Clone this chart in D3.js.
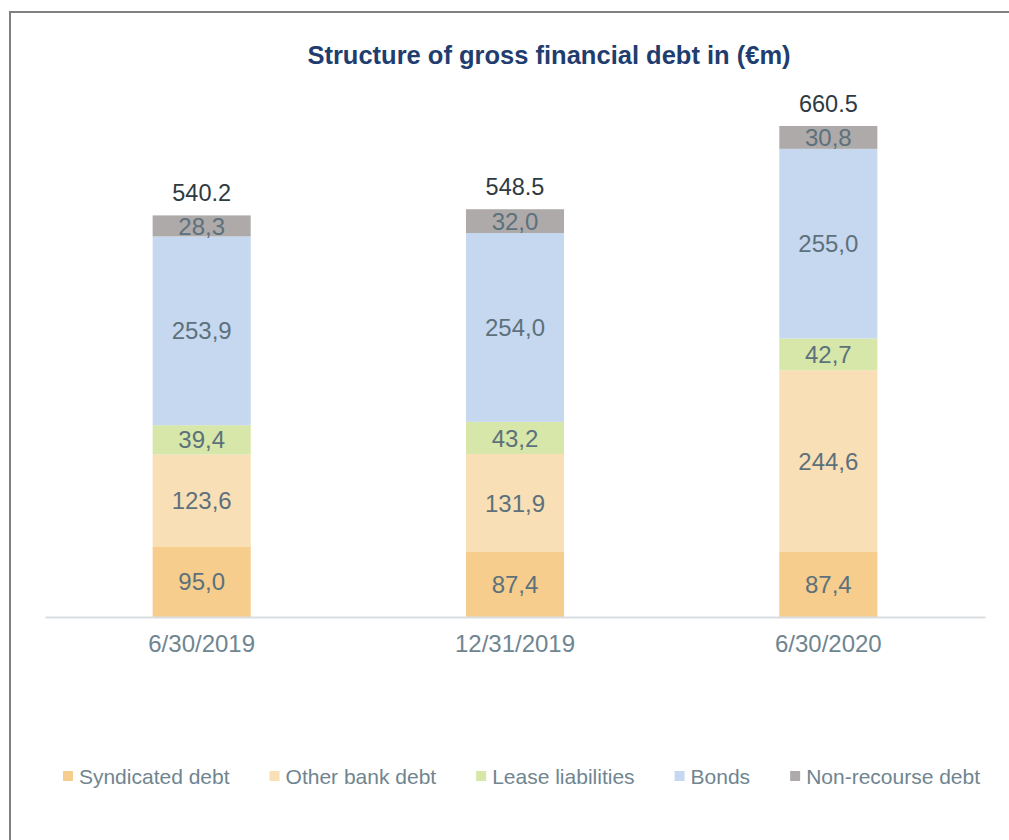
<!DOCTYPE html>
<html>
<head>
<meta charset="utf-8">
<script src="https://cdn.jsdelivr.net/npm/d3@7"></script>
<style>
  body { margin: 0; background: #fff; }
  svg { font-family: "Liberation Sans", Arial, sans-serif; }
</style>
</head>
<body>
<svg id="chart" width="1009" height="840"></svg>
<script>
// Data
const dates = ["6/30/2019", "12/31/2019", "6/30/2020"];
const seriesNames = ["Syndicated debt", "Other bank debt", "Lease liabilities", "Bonds", "Non-recourse debt"];
const syndicated = [95.0, 87.4, 87.4];
const otherBank = [123.6, 131.9, 244.6];
const lease = [39.4, 43.2, 42.7];
const bonds = [253.9, 254.0, 255.0];
const nonRecourse = [28.3, 32.0, 30.8];
const totals = ["540.2", "548.5", "660.5"];
const colors = ["#f6cd8c", "#f9dfb6", "#d6e7a9", "#c6d8ef", "#aeaaaa"];

const svg = d3.select("#chart");

// Frame round the chart
svg.append("rect")
  .attr("x", 10).attr("y", 12)
  .attr("width", 1020).attr("height", 840)
  .attr("fill", "none")
  .attr("stroke", "#808080")
  .attr("stroke-width", 2);

// Title
svg.append("text")
  .attr("x", 549).attr("y", 64)
  .attr("text-anchor", "middle")
  .attr("fill", "#1f3d6e")
  .attr("font-weight", "bold")
  .attr("font-size", 25.5)
  .text("Structure of gross financial debt in (€m)");

// Build rows for the stack
const rows = dates.map((d, i) => ({
  date: d,
  "Syndicated debt": syndicated[i],
  "Other bank debt": otherBank[i],
  "Lease liabilities": lease[i],
  "Bonds": bonds[i],
  "Non-recourse debt": nonRecourse[i],
  total: totals[i]
}));

const stack = d3.stack().keys(seriesNames)(rows);

const x = d3.scaleBand()
  .domain(dates)
  .range([45, 985])
  .paddingInner(0.687)
  .paddingOuter(0.3435);

const y = d3.scaleLinear().domain([0, 700]).range([617, 96.6]);

const color = d3.scaleOrdinal().domain(seriesNames).range(colors);

// Bars
const layers = svg.append("g").selectAll("g")
  .data(stack)
  .join("g")
  .attr("fill", (d) => color(d.key));

layers.selectAll("rect")
  .data((d) => d)
  .join("rect")
  .attr("x", (d) => x(d.data.date))
  .attr("y", (d) => y(d[1]))
  .attr("width", x.bandwidth())
  .attr("height", (d) => y(d[0]) - y(d[1]));

// Segment labels (comma decimals)
const fmt = (v) => d3.format(".1f")(v).replace(".", ",");
layers.selectAll("text")
  .data((d) => d)
  .join("text")
  .attr("x", (d) => x(d.data.date) + x.bandwidth() / 2)
  .attr("y", (d) => (y(d[0]) + y(d[1])) / 2)
  .attr("dy", "0.36em")
  .attr("text-anchor", "middle")
  .attr("fill", "#5d717c")
  .attr("font-size", 24)
  .text((d) => fmt(d[1] - d[0]));

// Totals above bars
svg.append("g").selectAll("text")
  .data(rows)
  .join("text")
  .attr("x", (d) => x(d.date) + x.bandwidth() / 2)
  .attr("y", (d) => y(+d.total) - 14)
  .attr("text-anchor", "middle")
  .attr("fill", "#2e3a3f")
  .attr("font-size", 23.5)
  .text((d) => d.total);

// Category axis
const xAxis = svg.append("g")
  .attr("transform", "translate(0,617)")
  .call(d3.axisBottom(x).tickSize(0).tickPadding(18));
xAxis.select(".domain").attr("stroke", "#d9dde0").attr("stroke-width", 2);
xAxis.selectAll("text")
  .attr("font-family", "Liberation Sans, Arial, sans-serif")
  .attr("font-size", 24)
  .attr("fill", "#6f8590");

// Legend
const legend = svg.append("g").attr("transform", "translate(0,776)");
const items = legend.selectAll("g")
  .data(seriesNames)
  .join("g");
items.append("rect")
  .attr("width", 10).attr("height", 10)
  .attr("y", -5)
  .attr("fill", (d) => color(d));
items.append("text")
  .attr("x", 16)
  .attr("dy", "0.36em")
  .attr("font-size", 21)
  .attr("fill", "#6f8590")
  .text((d) => d);

let widths = [];
items.each(function () {
  widths.push(16 + this.querySelector("text").getComputedTextLength());
});
const gap = 40;
const totalW = d3.sum(widths) + gap * (widths.length - 1);
let cx = 521.5 - totalW / 2;
items.attr("transform", (d, i) => {
  const t = "translate(" + cx + ",0)";
  cx += widths[i] + gap;
  return t;
});
</script>
</body>
</html>
